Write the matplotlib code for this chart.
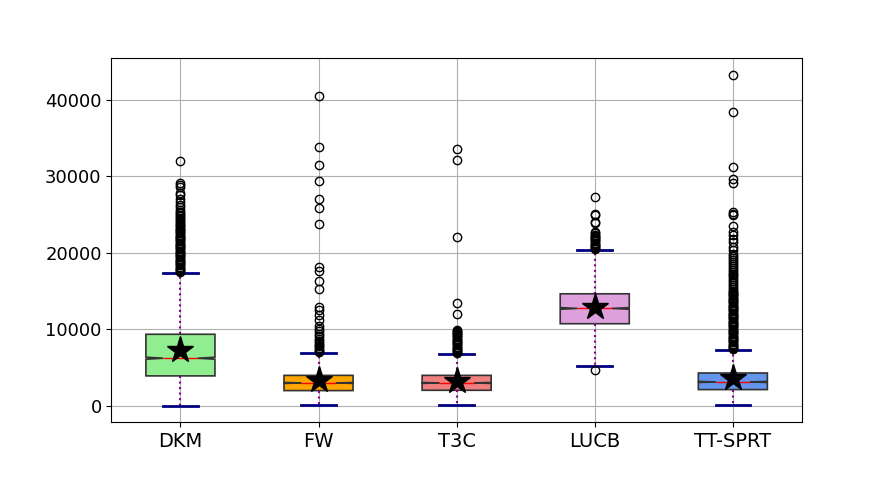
import matplotlib
matplotlib.use("Agg")
import matplotlib.pyplot as plt

labels = ["DKM", "FW", "T3C", "LUCB", "TT-SPRT"]
colors = ["lightgreen", "orange", "lightcoral", "plum", "cornflowerblue"]

medians = [6230, 3000, 3000, 12740, 3130]
q1s = [3920, 2000, 2040, 10740, 2130]
q3s = [9360, 3990, 3990, 14650, 4300]
whislos = [40, 170, 170, 5170, 80]
whishis = [17360, 6870, 6820, 20390, 7350]
means = [7250, 3430, 3210, 12880, 3650]
notch_half = [130, 60, 60, 110, 70]

fliers_dkm = [17450, 17600, 17750, 17900, 18050, 18200, 18350, 18500, 18650, 18800,
              18950, 19100, 19250, 19400, 19550, 19700, 19850, 20000, 20150, 20300,
              20450, 20600, 20750, 20900, 21050, 21200, 21350, 21500, 21650, 21800,
              21950, 22100, 22250, 22400, 22550, 22700, 22850, 23000, 23150, 23300,
              23450, 23600, 23800, 24000, 24200, 24400, 24600, 24800, 25000, 25200,
              25400, 25600, 26000, 26300, 26700, 27100, 27500, 27800, 28600, 28900,
              29100, 32000]
fliers_fw = [7000, 7150, 7350, 7550, 7780, 8000, 8250, 8430, 8700, 9080, 9400, 9740,
             10000, 10390, 11260, 11910, 12470, 12870, 15300, 16260, 17690, 18130,
             23740, 25830, 27000, 29430, 31480, 33790, 40500]
fliers_t3c = [6850, 7000, 7150, 7300, 7450, 7600, 7750, 7900, 8050, 8200, 8350, 8500,
              8650, 8800, 8950, 9100, 9250, 9400, 9550, 9700, 9850, 9960,
              12040, 13480, 22050, 32180, 33570]
fliers_lucb = [4740, 20450, 20600, 20750, 20900, 21050, 21200, 21350, 21500, 21650,
               21800, 21950, 22100, 22250, 22400, 22550, 22790, 23870, 24090, 24900,
               25050, 27310]
fliers_tt = [7400, 7550, 7700, 7850, 8000, 8150, 8300, 8450, 8600, 8750, 8900, 9050,
             9200, 9350, 9500, 9650, 9800, 9950, 10100, 10250, 10400, 10550, 10700,
             10850, 11000, 11150, 11300, 11450, 11600, 11750, 11900, 12050, 12200,
             12350, 12500, 12650, 12800, 12950, 13100, 13250, 13400, 13550, 13700,
             13850, 14000, 14150, 14300, 14450, 14600, 14750, 14900, 15050, 15300,
             15550, 15800, 16050, 16300, 16550, 16800, 17050, 17300, 17550, 17800,
             18050, 18300, 18550, 18800, 19050, 19300, 19550, 19800, 20390, 20800,
             21480, 21800, 22350, 22780, 23570, 24960, 25100, 25310, 29090, 29660,
             31180, 38440, 43310]
fliers = [fliers_dkm, fliers_fw, fliers_t3c, fliers_lucb, fliers_tt]

stats = []
for i, lab in enumerate(labels):
    stats.append(dict(label=lab, med=medians[i], q1=q1s[i], q3=q3s[i],
                      whislo=whislos[i], whishi=whishis[i], mean=means[i],
                      fliers=fliers[i],
                      cilo=medians[i] - notch_half[i], cihi=medians[i] + notch_half[i]))

fig = plt.figure(figsize=(8.91, 4.83), dpi=100)
ax = fig.add_axes([0.125, 0.126, 0.775, 0.754])
ax.grid(True, color="#b0b0b0", linewidth=0.8)

bp = ax.bxp(stats, shownotches=True, showmeans=True, patch_artist=True,
            boxprops=dict(edgecolor="#333333", linewidth=1.2),
            whiskerprops=dict(color="darkmagenta", linestyle=":", linewidth=1.5),
            capprops=dict(color="navy", linewidth=2),
            medianprops=dict(color="red", linewidth=1),
            meanprops=dict(marker="*", markerfacecolor="black", markeredgecolor="black",
                           markersize=20),
            flierprops=dict(marker="o", markerfacecolor="none", markeredgecolor="black",
                            markersize=6))
for patch, c in zip(bp["boxes"], colors):
    patch.set_facecolor(c)

ax.tick_params(axis="x", labelsize=14)
ax.tick_params(axis="y", labelsize=13)

fig.savefig("out.png", dpi=100)
